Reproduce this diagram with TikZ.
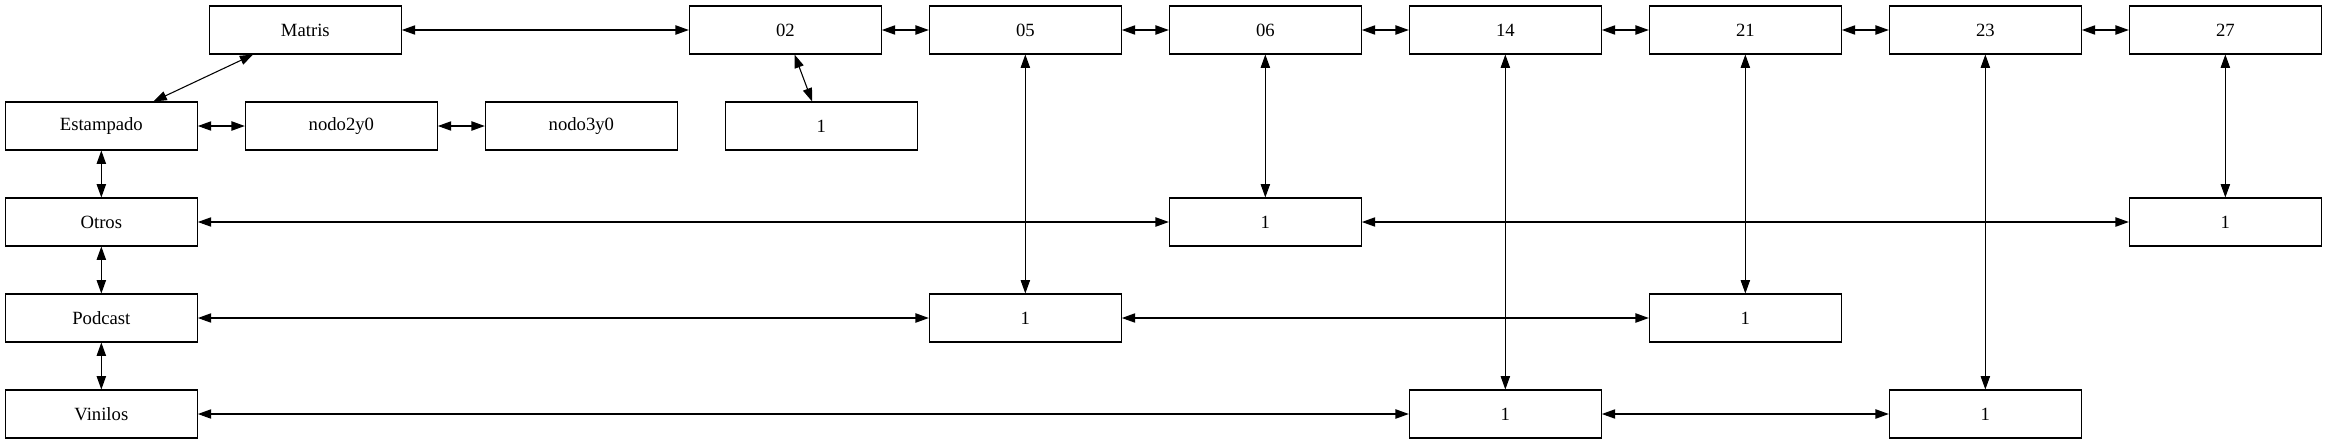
\documentclass[tikz,border=0pt]{standalone}
\usepackage{fontspec}
\setmainfont{Liberation Serif}
\usepackage{tikz}
\usetikzlibrary{arrows.meta, positioning}

\begin{document}
\begin{tikzpicture}[
  x=1pt, y=1pt,
  blk/.style={draw, line width=0.8pt, minimum width=144pt, minimum height=36pt,
              inner sep=0pt, font=\fontsize{14}{16}\selectfont},
  arr/.style={{Triangle[length=10pt,width=7pt]}-{Triangle[length=10pt,width=7pt]},
              line width=0.8pt},
]
\useasboundingbox (-1,0) rectangle (1744.25,-332.25);

% ---- Top row: Matris and the numbered chain --------------------------------
\node[blk] (mat) at (228,-22.5) {Matris};
\node[blk] (c02) at (588,-22.5) {02};
\node[blk] (c05) at (768,-22.5) {05};
\node[blk] (c06) at (948,-22.5) {06};
\node[blk] (c14) at (1128,-22.5) {14};
\node[blk] (c21) at (1308,-22.5) {21};
\node[blk] (c23) at (1488,-22.5) {23};
\node[blk] (c27) at (1668,-22.5) {27};
\draw[arr] (mat) -- (c02);
\draw[arr] (c02) -- (c05);
\draw[arr] (c05) -- (c06);
\draw[arr] (c06) -- (c14);
\draw[arr] (c14) -- (c21);
\draw[arr] (c21) -- (c23);
\draw[arr] (c23) -- (c27);

% ---- Second row: Estampado ---------------------------------------------------
\node[blk] (est) at (75,-94.5) {Estampado};
\node[blk] (n2y0) at (255,-94.5) {nodo2y0};
\node[blk] (n3y0) at (435,-94.5) {nodo3y0};
\node[blk] (u02) at (615,-94.5) {1};
\draw[arr] (est) -- (mat);
\draw[arr] (est) -- (n2y0);
\draw[arr] (n2y0) -- (n3y0);
\draw[arr] (c02) -- (u02);

% ---- Otros -------------------------------------------------------------------
\node[blk] (otros) at (75,-166.5) {Otros};
\node[blk] (oA) at (948,-166.5) {1};
\node[blk] (oB) at (1668,-166.5) {1};
\draw[arr] (est) -- (otros);
\draw[arr] (otros) -- (oA);
\draw[arr] (oA) -- (oB);
\draw[arr] (c06) -- (oA);
\draw[arr] (c27) -- (oB);

% ---- Podcast -----------------------------------------------------------------
\node[blk] (podc) at (75,-238.5) {Podcast};
\node[blk] (pA) at (768,-238.5) {1};
\node[blk] (pB) at (1308,-238.5) {1};
\draw[arr] (otros) -- (podc);
\draw[arr] (podc) -- (pA);
\draw[arr] (pA) -- (pB);
\draw[arr] (c05) -- (pA);
\draw[arr] (c21) -- (pB);

% ---- Vinilos -----------------------------------------------------------------
\node[blk] (vin) at (75,-310.5) {Vinilos};
\node[blk] (vA) at (1128,-310.5) {1};
\node[blk] (vB) at (1488,-310.5) {1};
\draw[arr] (podc) -- (vin);
\draw[arr] (vin) -- (vA);
\draw[arr] (vA) -- (vB);
\draw[arr] (c14) -- (vA);
\draw[arr] (c23) -- (vB);

\end{tikzpicture}
\end{document}
